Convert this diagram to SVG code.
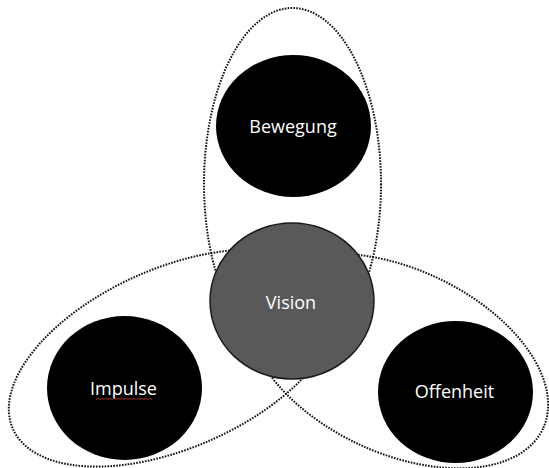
<svg xmlns="http://www.w3.org/2000/svg" width="549" height="468" viewBox="0 0 549 468">
  <style>
    .ring { fill: none; stroke: #111; stroke-width: 2; stroke-dasharray: 1.6 1.3; }
    .dark { fill: #000; }
    .lbl { fill: #fff; font-family: "Open Sans", "Liberation Sans", sans-serif; font-size: 18px; text-anchor: middle; }
  </style>
  <rect width="549" height="468" fill="#fff"/>
  <g id="connectors">
    <ellipse class="ring" cx="292.5" cy="184" rx="88.5" ry="176"/>
    <ellipse class="ring" cx="174" cy="358" rx="176" ry="90" transform="rotate(-23.7 174 358)"/>
    <ellipse class="ring" cx="398" cy="361" rx="160" ry="92" transform="rotate(25 398 361)"/>
  </g>
  <g id="bewegung">
    <ellipse class="dark" cx="293.5" cy="126" rx="77.5" ry="71"/>
    <text class="lbl" x="293" y="133">Bewegung</text>
  </g>
  <g id="vision">
    <ellipse cx="292" cy="301" rx="82" ry="78" fill="#595959" stroke="#1a1a1a" stroke-width="1.5"/>
    <text class="lbl" x="291" y="309" font-size="20">Vision</text>
  </g>
  <g id="impulse">
    <ellipse class="dark" cx="124.5" cy="388" rx="77.5" ry="72"/>
    <text class="lbl" x="123.5" y="395">Impulse</text>
    <path d="M96 399.5 l2 -1.2 l2 1.2 l2 -1.2 l2 1.2 l2 -1.2 l2 1.2 l2 -1.2 l2 1.2 l2 -1.2 l2 1.2 l2 -1.2 l2 1.2 l2 -1.2 l2 1.2 l2 -1.2 l2 1.2 l2 -1.2 l2 1.2 l2 -1.2 l2 1.2 l2 -1.2 l2 1.2 l2 -1.2 l2 1.2 l2 -1.2 l2 1.2 l2 -1.2 l2 1.2" fill="none" stroke="#c0392b" stroke-width="0.8"/>
  </g>
  <g id="offenheit">
    <ellipse class="dark" cx="455.5" cy="392" rx="77.5" ry="71"/>
    <text class="lbl" x="454.5" y="398">Offenheit</text>
  </g>
</svg>
